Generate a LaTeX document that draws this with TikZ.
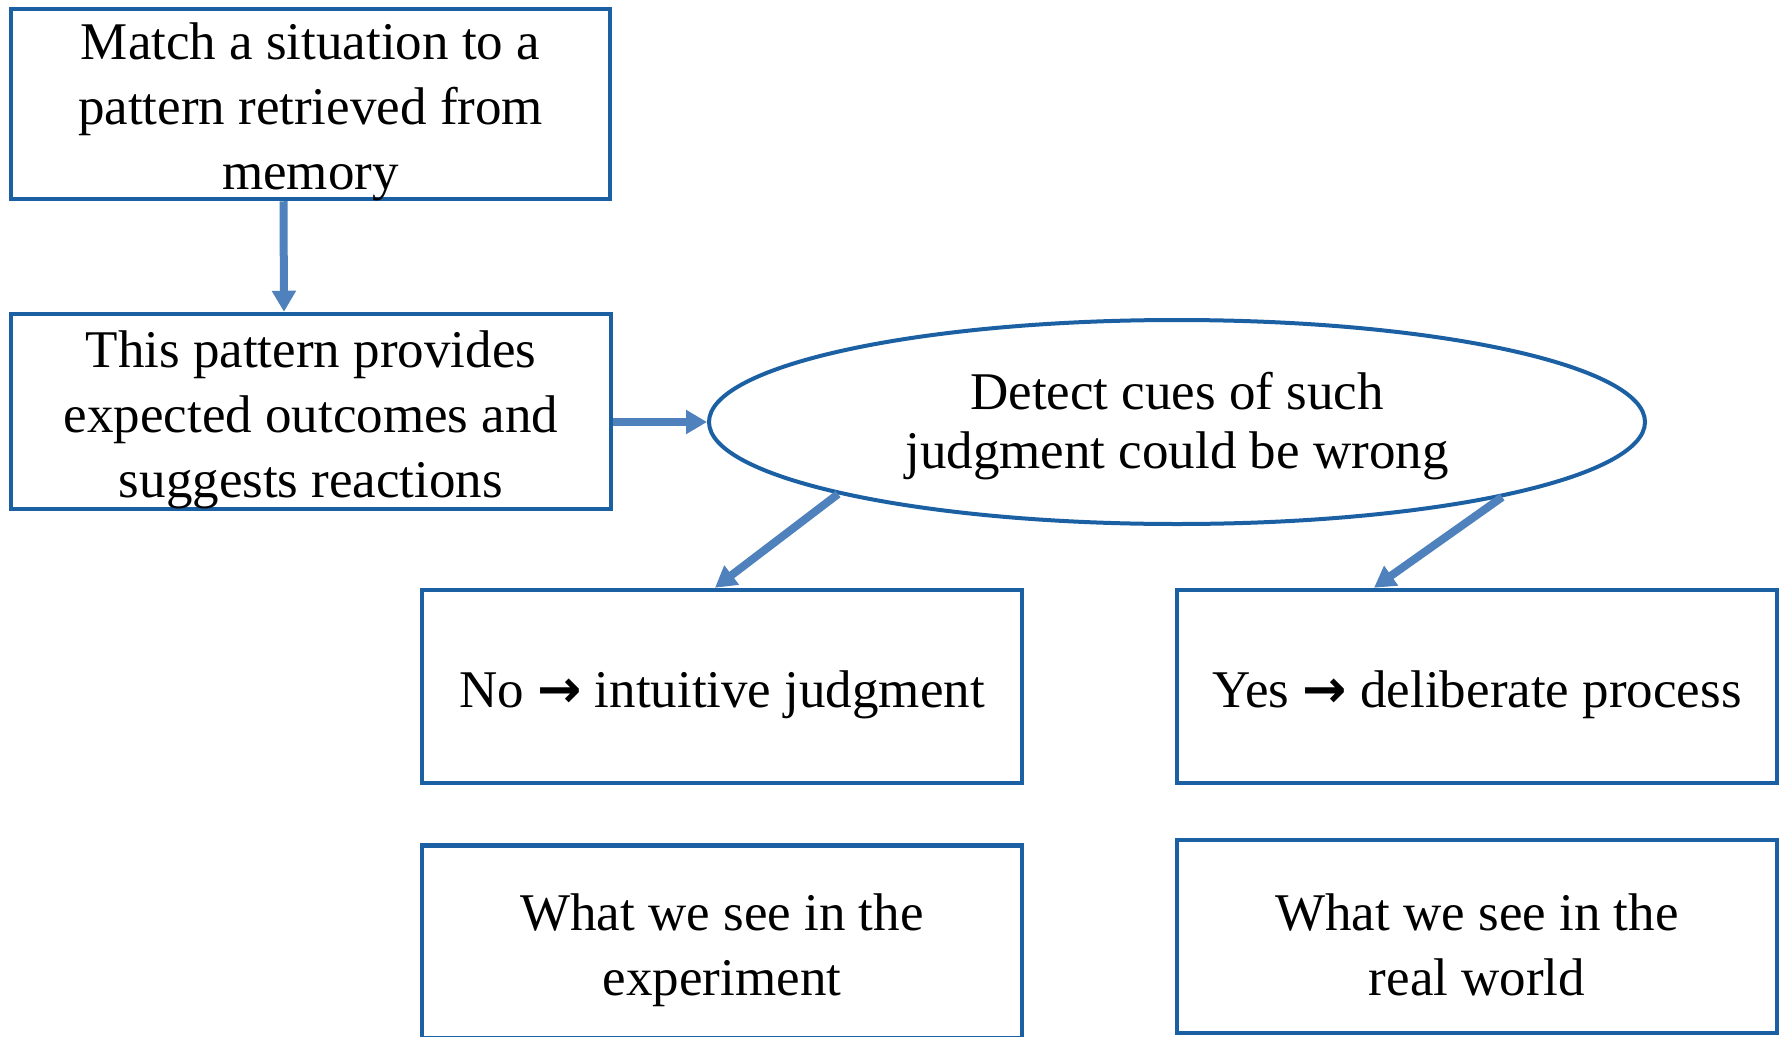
\documentclass[tikz,border=0pt]{standalone}
\usepackage{fontspec}
\setmainfont{Liberation Serif}
\newfontfamily\arrowfont{DejaVu Sans}
\usetikzlibrary{arrows.meta,shapes.geometric}
\definecolor{boxblue}{RGB}{28,96,164}
\definecolor{arrblue}{RGB}{79,129,189}
\newcommand{\rarr}{{\arrowfont\bfseries\char"2192}}
\begin{document}
\begin{tikzpicture}[x=1pt,y=-1pt,
  every node/.style={inner sep=0pt},
  txt/.style={font=\fontsize{53}{65}\selectfont, align=center, yshift=-8pt},
  boxnode/.style={draw=boxblue, line width=4.5pt, rectangle, minimum width=600pt, minimum height=193pt},
  ellnode/.style={draw=boxblue, line width=4pt, ellipse, minimum width=936pt, minimum height=204pt},
  conn/.style={draw=arrblue, line width=8pt, -{Triangle[length=21pt,width=23pt]}}]
\useasboundingbox (0,0) rectangle (1780,1036);
\fill[white] (0,0) rectangle (1780,1036);
\node[boxnode, minimum width=599pt, minimum height=190pt] (b1) at (310.5,104) {};
\node[txt] (t1) at (b1) {Match a situation to a\\pattern retrieved from\\memory};
\node[boxnode, minimum height=195pt] (b2) at (311,411.5) {};
\node[txt] (t2) at (b2) {This pattern provides\\expected outcomes and\\suggests reactions};
\node[ellnode] (ell) at (1177,422) {};
\node[txt, font=\fontsize{53}{59}\selectfont, yshift=4pt] (te) at (ell) {Detect cues of such\\judgment could be wrong};
\node[boxnode] (b3) at (722,686.5) {};
\node[txt] (t3) at (b3) {No \rarr{} intuitive judgment};
\node[boxnode] (b4) at (1477,686.5) {};
\node[txt] (t4) at (b4) {Yes \rarr{} deliberate process};
\node[boxnode] (b5) at (722,942) {};
\node[txt] (t5) at (b5) {What we see in the\\experiment};
\node[boxnode] (b6) at (1477,936.5) {};
\node[txt] (t6) at (b6) {What we see in the\\real world};
\draw[conn] ([xshift=-27pt]b1.south) -- ([xshift=-27pt]b2.north);
\draw[conn] (b2.east |- ell.west) -- (ell.west);
\draw[conn] (ell.192) -- ([xshift=-7pt]b3.north);
\draw[conn] (ell.347) -- ([xshift=-103pt]b4.north);
\end{tikzpicture}
\end{document}
